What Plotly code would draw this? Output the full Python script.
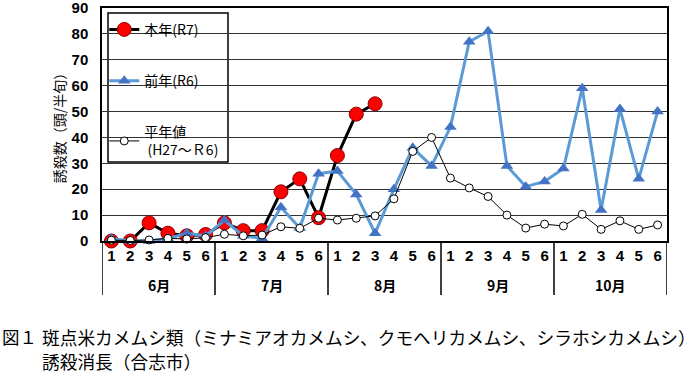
import plotly.graph_objects as go

months = ["6月", "7月", "8月", "9月", "10月"]
halves = ["1", "2", "3", "4", "5", "6"]

r7 = [0, 0, 7, 3, 2, 2.5, 7, 4, 4, 19, 24, 9, 33, 49, 53] + [None] * 15
r6 = [1, 0, 0, 1, 3, 2, 8, 2, 1, 13, 5, 26, 27, 18, 3, 20, 36, 29,
      44, 77, 81, 29, 21, 23, 28, 59, 12, 51, 24, 50]
avg = [0.3, 0.2, 0.4, 1.0, 0.8, 1.3, 2.6, 2.0, 2.3, 5.5, 4.9, 8.8,
       8.1, 8.8, 9.7, 16.3, 34.6, 40.0, 24.3, 20.5, 17.2, 10.0, 5.0, 6.5,
       5.8, 10.3, 4.5, 7.8, 4.5, 6.2]

n = len(months) * len(halves)
xs = list(range(n))
ticktext = [h for m in months for h in halves]

JP = "Noto Sans CJK JP"
NUM = "Liberation Sans"

fig = go.Figure()
fig.add_trace(go.Scatter(
    x=xs, y=r7, name="本年(R7)", mode="lines+markers", legendgroup="a",
    line=dict(color="black", width=3),
    marker=dict(symbol="circle", size=14, color="#FF0000",
                line=dict(color="#8B0000", width=1)),
    cliponaxis=False))
fig.add_trace(go.Scatter(
    x=xs, y=r6, name="前年(R6)", mode="lines+markers", legendgroup="b",
    line=dict(color="#5B9BD5", width=3),
    marker=dict(symbol="triangle-up", size=11, color="#4472C4"),
    cliponaxis=False))
fig.add_trace(go.Scatter(
    x=xs, y=avg, name="平年値<br> (H27～Ｒ6)", mode="lines+markers", legendgroup="c",
    line=dict(color="black", width=1),
    marker=dict(symbol="circle", size=8, color="white",
                line=dict(color="black", width=1)),
    cliponaxis=False))

shapes = []
for k in range(len(months) + 1):
    xv = k * len(halves) - 0.5
    shapes.append(dict(type="line", xref="x", yref="paper", x0=xv, x1=xv,
                       y0=-0.232, y1=0, line=dict(color="black", width=1.5)))
# legend frame (white box above gridlines, below traces)
shapes.append(dict(type="rect", xref="paper", yref="paper",
                   x0=0.0106, x1=0.2230, y0=0.339, y1=0.979, layer="between",
                   fillcolor="white", line=dict(color="black", width=1.5)))

annotations = []
for i, m in enumerate(months):
    annotations.append(dict(
        x=i * len(halves) + (len(halves) - 1) / 2, y=-0.189, xref="x", yref="paper",
        text=m, showarrow=False, xanchor="center", yanchor="middle",
        font=dict(family=JP, size=14, color="black", weight="bold")))

annotations.append(dict(x=-0.1805, y=-0.412, xref="paper", yref="paper",
                        text="図１", showarrow=False, xanchor="left", yanchor="middle",
                        font=dict(family=JP, size=17.5, color="black")))
annotations.append(dict(x=-0.1097, y=-0.412, xref="paper", yref="paper",
                        text="斑点米カメムシ類（ミナミアオカメムシ、クモヘリカメムシ、シラホシカメムシ）",
                        showarrow=False, xanchor="left", yanchor="middle",
                        font=dict(family=JP, size=17.7, color="black")))
annotations.append(dict(x=-0.1097, y=-0.515, xref="paper", yref="paper",
                        text="誘殺消長（合志市）",
                        showarrow=False, xanchor="left", yanchor="middle",
                        font=dict(family=JP, size=17.7, color="black")))

fig.update_layout(
    width=700, height=373,
    margin=dict(l=102, r=33, t=8, b=132, autoexpand=False),
    plot_bgcolor="white", paper_bgcolor="white",
    showlegend=True,
    legend=dict(x=0.004, y=0.975, xanchor="left", yanchor="top",
                bgcolor="rgba(0,0,0,0)", borderwidth=0,
                font=dict(family=JP, size=14, color="black"),
                traceorder="grouped", tracegroupgap=30, itemwidth=30),
    xaxis=dict(range=[-0.5, n - 0.5], tickmode="array", tickvals=xs, ticktext=ticktext,
               showgrid=False, zeroline=False, showline=True, linecolor="black",
               linewidth=1.5, mirror=True, ticks="", automargin=False,
               tickfont=dict(family=NUM, size=15, color="black", weight="bold"),
               ticklabelstandoff=0, ticklabeloverflow="allow"),
    yaxis=dict(range=[0, 90], dtick=10, showgrid=True, gridcolor="#333333", gridwidth=1.2,
               zeroline=False, showline=True, linecolor="black", linewidth=1.5,
               mirror=True, ticks="", automargin=False,
               tickfont=dict(family=NUM, size=15, color="black", weight="bold"),
               ticklabelstandoff=9, ticklabeloverflow="allow",
               title=dict(text="誘殺数（頭/半旬）", standoff=3,
                          font=dict(family=JP, size=14, color="black"))),
    shapes=shapes, annotations=annotations,
)

fig.write_html("out.html", config={"displayModeBar": False},
               post_script="document.body.style.margin='0';")
